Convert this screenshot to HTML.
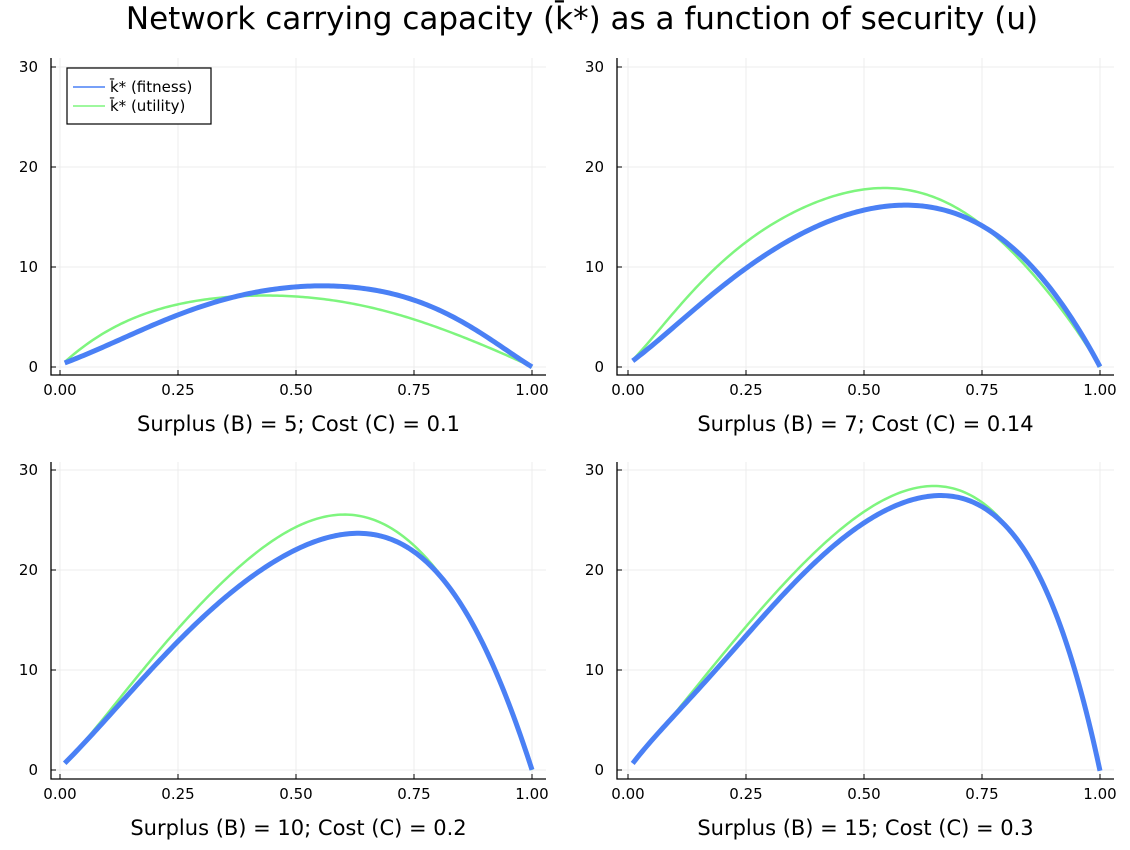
<!DOCTYPE html>
<html><head><meta charset="utf-8"><style>
body{margin:0;background:#fff;font-family:"Liberation Sans","DejaVu Sans",sans-serif}
</style></head><body>
<svg id="chart" width="1130" height="845" xmlns="http://www.w3.org/2000/svg" font-family="DejaVu Sans, Liberation Sans, sans-serif">
<rect width="1130" height="845" fill="#fff"/>
<text x="582" y="29" text-anchor="middle" font-size="31">Network carrying capacity (k̄*) as a function of security (u)</text>
<g id="plots"></g>
</svg>
<script>
const xTicks=[0,0.25,0.5,0.75,1];
const xTickLabels=["0.00","0.25","0.50","0.75","1.00"];
const yTicks=[0,10,20,30];
const uVals=[0.01,0.1,0.2,0.25,0.3,0.4,0.5,0.6,0.7,0.75,0.8,0.85,0.9,0.95,1.0];
const fit1=[0.4,2.2,4.2,5.2,6.1,7.4,7.9,8.1,7.4,6.7,5.7,4.6,3.1,1.6,0];
const uti1=[0.5,3.6,5.6,6.3,6.7,7.1,7.1,6.4,5.6,4.7,3.9,3.1,2.1,1.1,0];
const fit2=[0.6,4.2,7.9,9.9,11.6,14.1,15.6,16.1,15.4,14.2,12.4,10.2,7.6,4.2,0];
const uti2=[0.7,5.6,10.6,12.4,14.1,16.6,17.7,17.6,15.9,14.2,12.1,9.7,6.9,3.7,0];
const fit3=[0.67,5.2,10.5,12.7,15.2,19.2,22.0,23.5,23.2,21.8,19.7,16.5,12.2,6.8,0];
const uti3=[0.7,5.6,11.5,14.0,16.7,21.2,24.3,25.4,24.5,22.3,19.8,16.5,12.1,6.7,0];
const fit4=[0.67,5.5,10.8,13.5,16.0,20.8,24.8,27.1,27.2,26.2,24.3,21.5,16.5,9.2,0];
const uti4=[0.7,5.7,11.5,14.3,17.2,21.8,25.8,28.3,28.0,26.5,24.5,21.3,16.2,9.0,0];
const titles=["Surplus (B) = 5; Cost (C) = 0.1","Surplus (B) = 7; Cost (C) = 0.14","Surplus (B) = 10; Cost (C) = 0.2","Surplus (B) = 15; Cost (C) = 0.3"];
const fits=[fit1,fit2,fit3,fit4], utis=[uti1,uti2,uti3,uti4];
const NS="http://www.w3.org/2000/svg";
const root=document.getElementById('plots');
function mk(t,a,p){const e=document.createElementNS(NS,t);for(const k in a)e.setAttribute(k,a[k]);(p||root).appendChild(e);return e;}
// least-squares polynomial smoothing of the read data points
function polyFit(us,vs,deg){
 const n=deg+1,A=[],b=[];
 const t=us.map(u=>(u-0.505)/0.495);
 for(let r=0;r<n;r++){A.push(new Array(n).fill(0));b.push(0);}
 for(let i=0;i<t.length;i++){const p=[];let v=1;for(let k=0;k<n;k++){p.push(v);v*=t[i];}
  for(let r=0;r<n;r++){b[r]+=p[r]*vs[i];for(let c=0;c<n;c++)A[r][c]+=p[r]*p[c];}}
 for(let c=0;c<n;c++){let piv=c;for(let r=c+1;r<n;r++)if(Math.abs(A[r][c])>Math.abs(A[piv][c]))piv=r;
  [A[c],A[piv]]=[A[piv],A[c]];[b[c],b[piv]]=[b[piv],b[c]];
  for(let r=0;r<n;r++){if(r===c)continue;const f=A[r][c]/A[c][c];for(let k=c;k<n;k++)A[r][k]-=f*A[c][k];b[r]-=f*b[c];}}
 const co=b.map((v,i)=>v/A[i][i]);
 return u=>{const x=(u-0.505)/0.495;let s=0,p=1;for(const c of co){s+=c*p;p*=x;}return s;};
}
function curvePath(us,vs,sx,sy){
 const f=polyFit(us,vs,7);const u0=us[0],u1=us[us.length-1];let d="";
 for(let i=0;i<=200;i++){const u=u0+(u1-u0)*i/200;d+=(i?"L":"M")+sx(u).toFixed(2)+","+sy(f(u)).toFixed(2);}
 return d;}
const panels=[{L:51,R:546,T:58,B:375,x0:60,x1:532,y0:367},{L:617,R:1114,T:58,B:375,x0:628,x1:1100,y0:367},
{L:51,R:546,T:462,B:779,x0:60,x1:532,y0:770},{L:617,R:1114,T:462,B:779,x0:628,x1:1100,y0:770}];
panels.forEach((P,k)=>{
 const g=mk('g',{});
 
 
 const sx=v=>P.x0+(P.x1-P.x0)*v, sy=v=>P.y0-v*10;
 xTicks.forEach((t,i)=>{const x=sx(t);
  const gl=mk('line',{x1:x,x2:x,y1:P.T,y2:P.B,stroke:'#ececec','stroke-width':1},g);
  
  mk('line',{x1:x,x2:x,y1:P.B,y2:P.B-5,stroke:'#000'},g);
  const tl=mk('text',{x:x,y:P.B+20,'text-anchor':'middle','font-size':15},g);tl.textContent=xTickLabels[i];
  });
 yTicks.forEach(t=>{const y=sy(t);
  const gl=mk('line',{x1:P.L,x2:P.R,y1:y,y2:y,stroke:'#ececec','stroke-width':1},g);
  
  mk('line',{x1:P.L,x2:P.L+5,y1:y,y2:y,stroke:'#000'},g);
  const tl=mk('text',{x:P.L-13,y:y+5,'text-anchor':'end','font-size':15},g);tl.textContent=t;
  });
 const ax=mk('path',{d:`M${P.L},${P.T}V${P.B}H${P.R}`,fill:'none',stroke:'#000','stroke-width':1.3},g);
 
 const up=mk('path',{d:curvePath(uVals,utis[k],sx,sy),fill:'none',stroke:'#7ef57e','stroke-width':2.5,'stroke-linejoin':'round'},g);
 
 const fp=mk('path',{d:curvePath(uVals,fits[k],sx,sy),fill:'none',stroke:'#4a80f5','stroke-width':5,'stroke-linejoin':'round'},g);
 
 const tt=mk('text',{x:(P.L+P.R)/2,y:P.B+56,'text-anchor':'middle','font-size':21},g);tt.textContent=titles[k];
 
});
const lg=mk('g',{});


mk('rect',{x:67,y:68,width:144,height:56,fill:'#fff',stroke:'#000','stroke-width':1.2},lg);
mk('line',{x1:73,x2:105,y1:87,y2:87,stroke:'#4a80f5','stroke-width':1.5},lg);
mk('line',{x1:73,x2:105,y1:106,y2:106,stroke:'#7ef57e','stroke-width':1.5},lg);
const l1=mk('text',{x:110,y:92,'font-size':15},lg);l1.textContent="k̄* (fitness)";

const l2=mk('text',{x:110,y:111,'font-size':15},lg);l2.textContent="k̄* (utility)";

</script>
</body></html>
